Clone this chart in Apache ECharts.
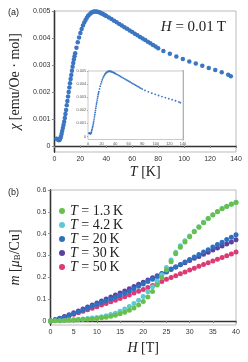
<!DOCTYPE html>
<html><head><meta charset="utf-8">
<script src="https://cdn.jsdelivr.net/npm/echarts@6/dist/echarts.min.js"></script>
<style>html,body{margin:0;padding:0;background:#fff}#c{width:248px;height:362px}</style>
</head><body><div id="c"></div>
<script>
// ---- Panel (a): susceptibility vs temperature ----
const T = [1.5,2,2.5,3,3.5,4,4.5,5,5.5,6,6.5,7,7.5,8,8.5,9,9.5,10,10.5,11,11.5,12,12.5,13,13.5,14,14.5,15,15.5,16,17,18,19,20,21,22,23,24,25,26,27,28,29,30,31,32,33,34,35,36,37,38,39,40,42,44,46,48,50,52,54,56,58,60,62,64,66,68,70,72,74,76,78,80,84,89,94,99,104,109,114,119,124,129,134,136];
const chi = [0.00026,0.00025,0.00024,0.00022,0.00021,0.00022,0.00027,0.00034,0.00044,0.00055,0.00066,0.00077,0.00089,0.00103,0.00118,0.00133,0.00150,0.00166,0.00183,0.00200,0.00216,0.00232,0.00248,0.00263,0.00278,0.00293,0.00307,0.00320,0.00332,0.00343,0.00364,0.00384,0.00402,0.00418,0.00433,0.00446,0.00457,0.00467,0.00475,0.00482,0.00487,0.00492,0.00495,0.00497,0.00498,0.00498,0.00497,0.00496,0.00494,0.00492,0.00490,0.00487,0.00484,0.00481,0.00476,0.00470,0.00464,0.00458,0.00452,0.00446,0.00440,0.00434,0.00428,0.00422,0.00416,0.00410,0.00404,0.00398,0.00392,0.00386,0.00380,0.00374,0.00368,0.00362,0.00352,0.00341,0.00331,0.00322,0.00313,0.00305,0.00297,0.00289,0.00281,0.00273,0.00264,0.00258];
const chiTicks = [0,0.001,0.002,0.003,0.004,0.005];
const tTicks = [0,20,40,60,80,100,120,140];

// ---- Panel (b): magnetization vs field ----
const H = [0,1,2,3,4,5,6,7,8,9,10,11,12,13,14,15,16,17,18,19,20,21,22,23,24,25,26,27,28,29,30,31,32,33,34,35,36,37,38,39,40];
const m13 = [0.000,0.001,0.002,0.003,0.004,0.005,0.006,0.007,0.008,0.010,0.012,0.015,0.018,0.022,0.027,0.033,0.040,0.049,0.060,0.073,0.090,0.110,0.135,0.165,0.198,0.234,0.272,0.308,0.338,0.362,0.386,0.409,0.430,0.450,0.469,0.486,0.501,0.514,0.525,0.535,0.543];
const m42 = [0.000,0.001,0.002,0.003,0.005,0.006,0.008,0.010,0.012,0.014,0.016,0.020,0.024,0.030,0.036,0.045,0.055,0.067,0.080,0.095,0.113,0.134,0.157,0.183,0.212,0.245,0.280,0.315,0.345,0.368,0.389,0.411,0.432,0.452,0.470,0.487,0.502,0.515,0.526,0.536,0.544];
const m20 = [0.000,0.005,0.012,0.019,0.026,0.034,0.042,0.050,0.059,0.068,0.077,0.085,0.093,0.101,0.109,0.118,0.127,0.137,0.148,0.159,0.170,0.181,0.192,0.203,0.214,0.225,0.236,0.247,0.259,0.270,0.282,0.293,0.305,0.316,0.327,0.339,0.350,0.361,0.373,0.384,0.395];
const m30 = [0.000,0.006,0.013,0.021,0.029,0.038,0.046,0.055,0.064,0.073,0.083,0.092,0.101,0.110,0.119,0.128,0.138,0.148,0.158,0.168,0.178,0.188,0.198,0.208,0.218,0.228,0.238,0.248,0.258,0.267,0.277,0.287,0.296,0.306,0.315,0.325,0.334,0.344,0.353,0.362,0.372];
const m50 = [0.000,0.006,0.012,0.018,0.025,0.031,0.038,0.045,0.052,0.059,0.066,0.073,0.080,0.088,0.095,0.103,0.111,0.119,0.128,0.136,0.145,0.154,0.163,0.172,0.181,0.191,0.200,0.208,0.217,0.225,0.234,0.242,0.251,0.259,0.267,0.275,0.283,0.291,0.299,0.307,0.316];
const temps = ['1.3','4.2','20','30','50'];
const mSeries = [m13, m42, m20, m30, m50];
const mColors = ['#69bf4b','#5ccad3','#2f6fc0','#5a43a0','#db3a74'];
const mZ = [6, 5, 4, 3, 2];
const mTicks = [0,0.1,0.2,0.3,0.4,0.5,0.6];
const hTicks = [0,5,10,15,20,25,30,35,40];

const SERIF = '"Liberation Serif", "DejaVu Serif", serif';
const SANS = '"Liberation Sans", Arial, sans-serif';
const DARK = '#333';
const lbl = (size, margin) => ({fontSize:size, color:'#333', fontFamily:SANS, margin:margin});
const fmt3 = v => v === 0 ? '0' : v.toFixed(3);
const fmt1 = v => v === 0 ? '0' : String(v);
const mkRich = (fs) => ({
  i:{fontStyle:'italic', fontWeight:'normal', fontFamily:SERIF, fontSize:fs, color:'#222'},
  n:{fontWeight:'normal', fontFamily:SERIF, fontSize:fs, color:'#222'},
  s:{fontWeight:'normal', fontFamily:SERIF, fontSize:Math.round(fs*0.65), color:'#222', padding:[6,0,0,0]}
});
const richIt = mkRich(14);

const chart = echarts.init(document.getElementById('c'), null, {renderer:'canvas'});
const option = {
  animation:false,
  backgroundColor:'#fff',
  title:[
    {text:'(a)', left:3, top:3, textStyle:{fontSize:9, fontWeight:'normal', color:'#222', fontFamily:SANS}},
    {text:'(b)', left:3, top:183, textStyle:{fontSize:9, fontWeight:'normal', color:'#222', fontFamily:SANS}},
    {text:'{i|H}{n| = 0.01\u2009T}', right:17, top:15, textStyle:{fontWeight:'normal', rich:mkRich(15)}}
  ],
  grid:[
    {left:50, top:11, width:186, height:141, show:true, borderColor:'#aaa', borderWidth:0.8, containLabel:false},
    {left:88, top:71, width:95, height:68.5, show:true, borderColor:'#bbb', borderWidth:0.8, backgroundColor:'#fff', z:3},
    {left:50, top:190, width:186, height:135, show:true, borderColor:'#aaa', borderWidth:0.8}
  ],
  xAxis:[
    {type:'value', gridIndex:0, position:'bottom', min:0, max:140, interval:20,
     axisLine:{lineStyle:{color:DARK, width:1.3}}, axisTick:{show:true, length:2, lineStyle:{color:DARK}},
     axisLabel:Object.assign(lbl(7,4),{formatter:fmt1}), splitLine:{show:false},
     name:'{i|T}{n| [K]}', nameLocation:'middle', nameGap:13, nameTextStyle:{rich:richIt}},
    {type:'value', gridIndex:0, position:'top', min:0, max:140, interval:20,
     axisLine:{show:false}, axisTick:{show:true, inside:true, length:2, lineStyle:{color:'#888'}},
     axisLabel:{show:false}, splitLine:{show:false}},
    {type:'value', gridIndex:1, position:'bottom', min:0, max:140, interval:20,
     axisLine:{lineStyle:{color:'#999', width:1}}, axisTick:{show:true, length:1, lineStyle:{color:'#999'}},
     axisLabel:Object.assign(lbl(3.8,2),{formatter:fmt1, color:'#555'}), splitLine:{show:false}},
    {type:'value', gridIndex:2, position:'bottom', min:0, max:40, interval:5,
     axisLine:{lineStyle:{color:DARK, width:1.3}}, axisTick:{show:true, length:2, lineStyle:{color:DARK}},
     axisLabel:Object.assign(lbl(7,4),{formatter:fmt1}), splitLine:{show:false},
     name:'{i|H}{n| [T]}', nameLocation:'middle', nameGap:16, nameTextStyle:{rich:richIt}},
    {type:'value', gridIndex:2, position:'top', min:0, max:40, interval:5,
     axisLine:{show:false}, axisTick:{show:true, inside:true, length:2, lineStyle:{color:'#888'}},
     axisLabel:{show:false}, splitLine:{show:false}}
  ],
  yAxis:[
    {type:'value', gridIndex:0, position:'left', min:-0.00023, max:0.005,
     axisLine:{show:true, lineStyle:{color:DARK, width:1.3}},
     axisTick:{show:true, length:2, customValues:chiTicks, lineStyle:{color:DARK}},
     axisLabel:Object.assign(lbl(7,4),{customValues:chiTicks, formatter:fmt3}), splitLine:{show:false},
     name:'{i|χ}{n| [emu/Oe · mol]}', nameLocation:'middle', nameGap:28, nameRotate:90, nameTextStyle:{rich:richIt}},
    {type:'value', gridIndex:0, position:'right', min:-0.00023, max:0.005,
     axisLine:{show:true, lineStyle:{color:DARK, width:1.3}},
     axisTick:{show:true, inside:true, length:2, customValues:chiTicks, lineStyle:{color:'#888'}},
     axisLabel:{show:false}, splitLine:{show:false}},
    {type:'value', gridIndex:1, position:'left', min:-0.00023, max:0.005,
     axisLine:{show:true, lineStyle:{color:'#999', width:1}},
     axisTick:{show:true, length:1, customValues:chiTicks, lineStyle:{color:'#999'}},
     axisLabel:Object.assign(lbl(3.8,2),{customValues:chiTicks, formatter:fmt3, color:'#555'}), splitLine:{show:false}},
    {type:'value', gridIndex:1, position:'right', min:-0.00023, max:0.005,
     axisLine:{show:true, lineStyle:{color:'#aaa', width:2}}, axisTick:{show:false},
     axisLabel:{show:false}, splitLine:{show:false}},
    {type:'value', gridIndex:2, position:'left', min:-0.018, max:0.6,
     axisLine:{show:true, lineStyle:{color:DARK, width:1.3}},
     axisTick:{show:true, length:2, customValues:mTicks, lineStyle:{color:DARK}},
     axisLabel:Object.assign(lbl(7,4),{customValues:mTicks, formatter:fmt1}), splitLine:{show:false},
     name:'{i|m}{n| [}{i|μ}{s|B}{n|/Cu]}', nameLocation:'middle', nameGap:28, nameRotate:90, nameTextStyle:{rich:richIt}},
    {type:'value', gridIndex:2, position:'right', min:-0.018, max:0.6,
     axisLine:{show:true, lineStyle:{color:DARK, width:1.3}},
     axisTick:{show:true, inside:true, length:2, customValues:mTicks, lineStyle:{color:'#888'}},
     axisLabel:{show:false}, splitLine:{show:false}}
  ],
  legend:{
    left:54, top:199, orient:'vertical', itemGap:0, itemWidth:6, itemHeight:6, icon:'circle',
    data:temps.map(t => 'T = ' + t + ' K'),
    formatter: n => '{i|T}{n| = ' + n.slice(4, -2) + '\u2009K}',
    textStyle:{rich:{i:{fontStyle:'italic', fontFamily:SERIF, fontSize:14, color:'#222', lineHeight:14}, n:{fontFamily:SERIF, fontSize:14, color:'#222', lineHeight:14}}}
  },
  series:[
    {type:'scatter', name:'chi', xAxisIndex:0, yAxisIndex:0, symbolSize:4.5,
     itemStyle:{color:'#3a76c2', opacity:1}, data:T.map((t,i)=>[t, chi[i]]), z:2},
    {type:'scatter', name:'chi-inset', xAxisIndex:2, yAxisIndex:2, symbolSize:1.8,
     itemStyle:{color:'#3a76c2', opacity:1}, data:T.map((t,i)=>[t, chi[i]]), z:5}
  ].concat(mSeries.map((arr, k) => ({
    type:'scatter', name:'T = ' + temps[k] + ' K', xAxisIndex:3, yAxisIndex:4, symbolSize:5, z:mZ[k],
    itemStyle:{color:mColors[k], opacity:1}, data:H.map((h,i)=>[h, arr[i]])
  })))
};
chart.setOption(option);
</script></body></html>
